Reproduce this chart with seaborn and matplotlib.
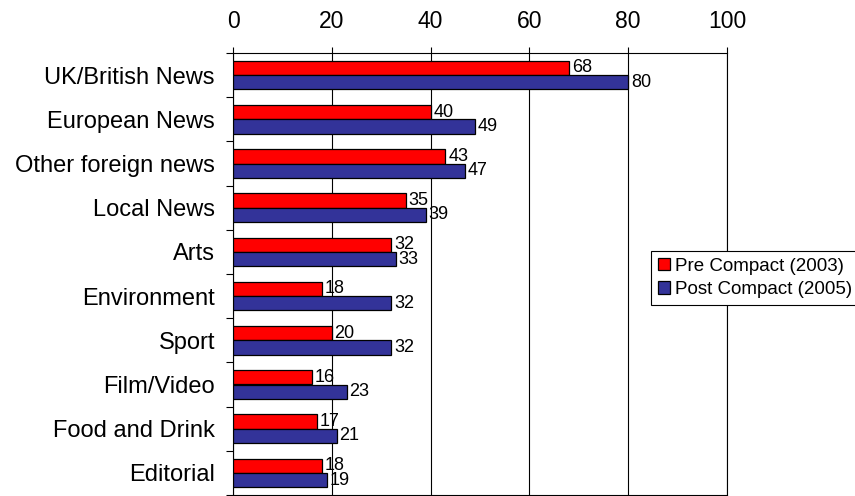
import matplotlib
matplotlib.use("Agg")
import matplotlib.pyplot as plt
import numpy as np
import pandas as pd
import seaborn as sns

categories = ["UK/British News", "European News", "Other foreign news", "Local News",
              "Arts", "Environment", "Sport", "Film/Video", "Food and Drink", "Editorial"]
pre_compact = [68, 40, 43, 35, 32, 18, 20, 16, 17, 18]
post_compact = [80, 49, 47, 39, 33, 32, 32, 23, 21, 19]
series_names = ["Pre Compact (2003)", "Post Compact (2005)"]
x_ticks = [0, 20, 40, 60, 80, 100]

sns.set_style("white")
plt.rcParams["font.family"] = ["Liberation Sans", "DejaVu Sans"]
plt.rcParams["text.color"] = "black"
plt.rcParams["xtick.color"] = "black"
plt.rcParams["ytick.color"] = "black"
plt.rcParams["axes.labelcolor"] = "black"

df = pd.DataFrame({
    "category": categories * 2,
    "value": pre_compact + post_compact,
    "series": [series_names[0]] * len(categories) + [series_names[1]] * len(categories),
})

fig = plt.figure(figsize=(8.55, 4.96), dpi=100)
ax = fig.add_axes([233 / 855, 1 - 495 / 496, (727 - 233) / 855, (495 - 53) / 496])

sns.barplot(data=df, y="category", x="value", hue="series", orient="h",
            order=categories, hue_order=series_names,
            palette=["#FF0000", "#333399"], width=0.65,
            edgecolor="black", linewidth=0.9, saturation=1, ax=ax, zorder=3)

for cont in ax.containers:
    ax.bar_label(cont, fontsize=13, padding=2, color="black", zorder=4)

ax.set_xlim(0, 100)
ax.set_ylim(len(categories) - 0.5, -0.5)
ax.set_xticks(x_ticks)
ax.xaxis.tick_top()
ax.tick_params(axis="x", which="major", top=True, bottom=False, length=4.3, width=0.8,
               direction="out", pad=10, labelsize=16.5, color="black", labelcolor="black")
ax.tick_params(axis="y", which="major", left=False, length=0, pad=13, labelsize=17,
               labelcolor="black")
ax.set_yticks(np.arange(len(categories) + 1) - 0.5, minor=True)
ax.tick_params(axis="y", which="minor", left=True, length=5, width=0.8, color="black")
ax.set_xlabel("")
ax.set_ylabel("")

ax.grid(axis="x", color="black", linewidth=0.8, zorder=0)
ax.set_axisbelow(True)
for side in ["left", "top", "right", "bottom"]:
    ax.spines[side].set_visible(True)
    ax.spines[side].set_color("black")
    ax.spines[side].set_linewidth(0.8)

handles, labels = ax.get_legend_handles_labels()
ax.legend(handles, labels, loc="upper left",
          bbox_to_anchor=(651 / 855, 1 - 251 / 496), bbox_transform=fig.transFigure,
          borderaxespad=0, frameon=True, fancybox=False, edgecolor="black",
          framealpha=1, fontsize=13.5, handlelength=0.65, handleheight=0.65,
          handletextpad=0.3, borderpad=0.35, labelspacing=0.35)
ax.get_legend().get_frame().set_linewidth(0.8)

fig.savefig("out.png", dpi=100)
